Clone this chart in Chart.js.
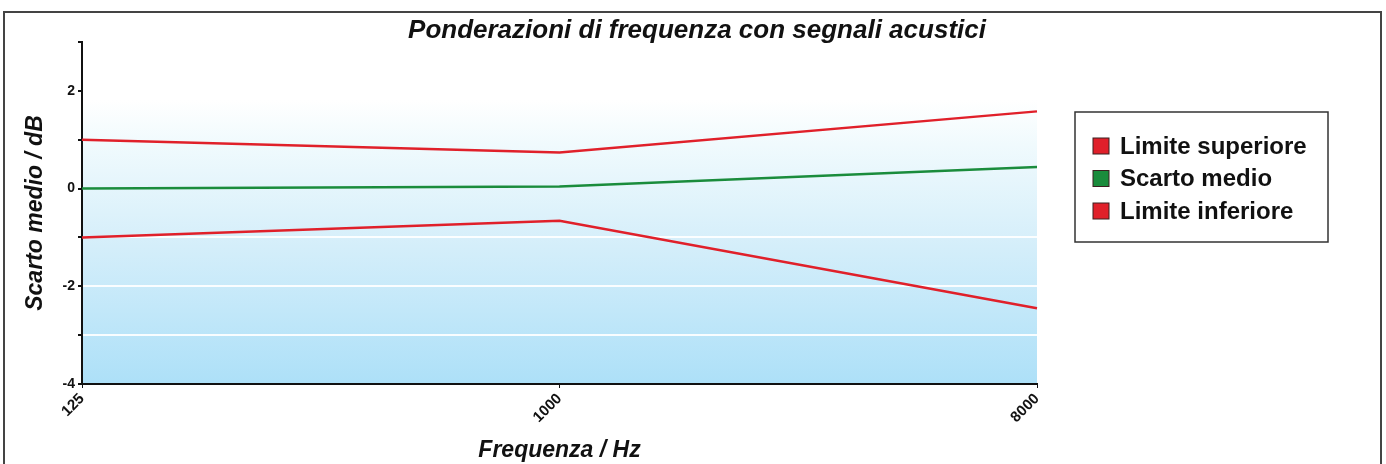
<!DOCTYPE html>
<html>
<head>
<meta charset="utf-8">
<script src="https://cdn.jsdelivr.net/npm/chart.js@4"></script>
<style>
  html, body { margin: 0; padding: 0; background: #fff; }
  #wrap { width: 1386px; height: 464px; position: relative; }
</style>
</head>
<body>
<div id="wrap"><canvas id="chart" width="1386" height="464"></canvas></div>
<script>
// Frequencies (Hz) on the x axis
const frequencies = ['125', '1000', '8000'];

// Deviations in dB
const upperLimit = [1.0, 0.74, 1.58];
const meanDeviation = [0.0, 0.04, 0.44];
const lowerLimit = [-1.0, -0.66, -2.45];

const seriesNames = ['Limite superiore', 'Scarto medio', 'Limite inferiore'];
const chartTitle = 'Ponderazioni di frequenza con segnali acustici';

const RED = '#e0202a';
const GREEN = '#1a8c3c';
const FONT = '"Liberation Sans", Arial, sans-serif';

// Draw frame, gradient background, title and a boxed legend
const decorations = {
    id: 'decorations',
    beforeDraw(chart) {
        const ctx = chart.ctx;
        const a = chart.chartArea;
        ctx.save();
        // outer frame
        ctx.strokeStyle = '#444';
        ctx.lineWidth = 2;
        ctx.strokeRect(4, 12, 1377, 520);
        // plot background gradient
        const g = ctx.createLinearGradient(0, a.top, 0, a.bottom);
        g.addColorStop(0, '#ffffff');
        g.addColorStop(0.17, '#ffffff');
        g.addColorStop(0.3, '#f0fafd');
        g.addColorStop(0.6, '#d4eefa');
        g.addColorStop(1, '#ade0f8');
        ctx.fillStyle = g;
        ctx.fillRect(a.left, a.top, a.right - a.left, a.bottom - a.top);
        ctx.restore();
    },
    afterDraw(chart) {
        const ctx = chart.ctx;
        ctx.save();
        // title
        ctx.fillStyle = '#111';
        ctx.font = 'italic bold 26px ' + FONT;
        ctx.textAlign = 'center';
        ctx.textBaseline = 'middle';
        ctx.fillText(chartTitle, 697, 31);
        // legend box
        ctx.fillStyle = '#fff';
        ctx.fillRect(1075, 112, 253, 130);
        ctx.strokeStyle = '#333';
        ctx.lineWidth = 1.5;
        ctx.strokeRect(1075, 112, 253, 130);
        ctx.font = 'bold 24px ' + FONT;
        ctx.textAlign = 'left';
        chart.data.datasets.forEach((ds, i) => {
            const y = 146 + i * 32.5;
            ctx.fillStyle = ds.borderColor;
            ctx.fillRect(1093, y - 8, 16, 16);
            ctx.strokeStyle = '#3a2020';
            ctx.lineWidth = 1;
            ctx.strokeRect(1093, y - 8, 16, 16);
            ctx.fillStyle = '#111';
            ctx.fillText(ds.label, 1120, y + 1);
        });
        ctx.restore();
    }
};

const ctx = document.getElementById('chart').getContext('2d');
const chart = new Chart(ctx, {
    type: 'line',
    data: {
        labels: frequencies,
        datasets: [
            { label: seriesNames[0], data: upperLimit, borderColor: RED },
            { label: seriesNames[1], data: meanDeviation, borderColor: GREEN },
            { label: seriesNames[2], data: lowerLimit, borderColor: RED }
        ].map(d => Object.assign(d, { borderWidth: 2.5, pointRadius: 0, tension: 0, fill: false }))
    },
    options: {
        responsive: false,
        animation: false,
        layout: { padding: { left: 0, top: 42, right: 349, bottom: 0 } },
        plugins: {
            legend: { display: false },
            title: { display: false },
            tooltip: { enabled: false }
        },
        scales: {
            x: {
                type: 'category',
                offset: false,
                afterFit(scale) { scale.height = 80; },
                border: { color: '#111', width: 2 },
                grid: { drawOnChartArea: false, color: '#111', tickLength: 4 },
                ticks: {
                    color: '#111',
                    font: { family: FONT, weight: 'bold', size: 15 },
                    minRotation: 45,
                    maxRotation: 45,
                    padding: 2
                },
                title: {
                    display: true,
                    text: 'Frequenza / Hz',
                    color: '#111',
                    font: { family: FONT, weight: 'bold', style: 'italic', size: 23 },
                    padding: { top: 0, bottom: 0 }
                }
            },
            y: {
                min: -4,
                max: 3,
                afterFit(scale) { scale.width = 82; },
                border: { color: '#111', width: 2 },
                grid: {
                    color: ctx => (ctx.tick && ctx.tick.value > -4 && ctx.tick.value < 0) ? 'rgba(255,255,255,0.9)' : 'rgba(0,0,0,0)',
                    lineWidth: 2,
                    tickColor: '#111',
                    tickLength: 4
                },
                ticks: {
                    stepSize: 1,
                    color: '#111',
                    font: { family: FONT, weight: 'bold', size: 14 },
                    padding: 3,
                    callback: v => (v % 2 === 0 ? String(v) : '')
                },
                title: {
                    display: true,
                    text: 'Scarto medio / dB',
                    color: '#111',
                    font: { family: FONT, weight: 'bold', style: 'italic', size: 23 },
                    padding: { top: 22, bottom: 0 }
                }
            }
        }
    },
    plugins: [decorations]
});
</script>
</body>
</html>
